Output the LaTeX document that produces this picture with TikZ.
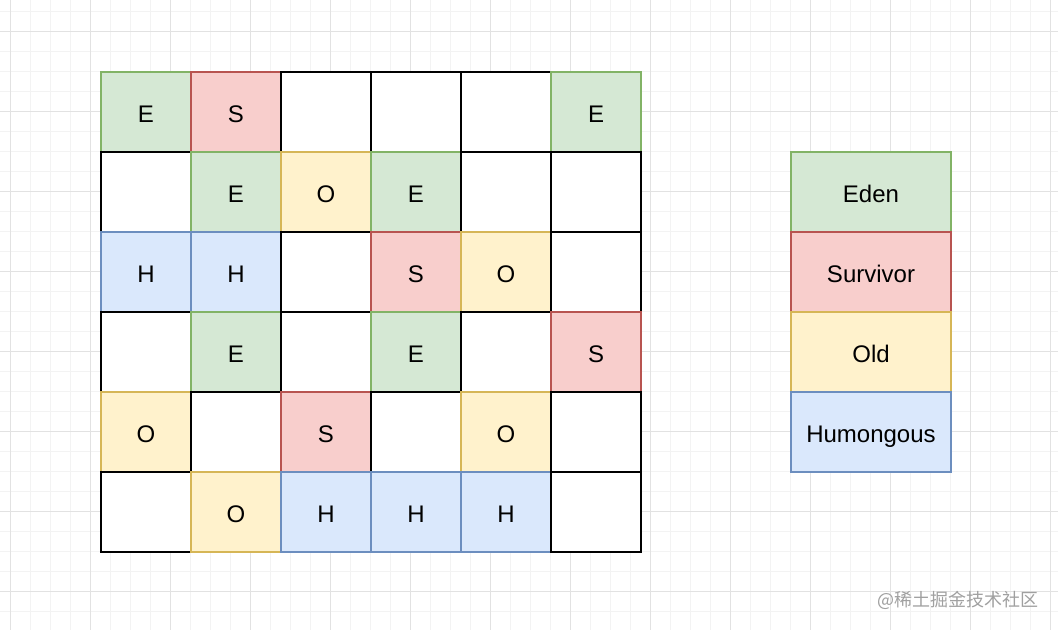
\documentclass[tikz,border=0pt]{standalone}
\usepackage{fontspec}
\setmainfont{Liberation Sans}
\newfontfamily\cjk{Noto Sans CJK SC}
\definecolor{edenfill}{HTML}{D5E8D4}
\definecolor{edenline}{HTML}{82B366}
\definecolor{survfill}{HTML}{F8CECC}
\definecolor{survline}{HTML}{B85450}
\definecolor{oldfill}{HTML}{FFF2CC}
\definecolor{oldline}{HTML}{D6B656}
\definecolor{humfill}{HTML}{DAE8FC}
\definecolor{humline}{HTML}{6C8EBF}
\definecolor{gridminor}{HTML}{F3F3F3}
\definecolor{gridmajor}{HTML}{E2E2E2}
\tikzset{
  region/.style={draw, line width=1.1pt, outer sep=0pt, inner sep=0pt, text height=16pt, text depth=0.8pt, font=\fontsize{18}{21}\selectfont},
  cellbox/.style={region, minimum width=67.5pt, minimum height=60pt},
  legbox/.style={region, minimum width=120pt, minimum height=60pt},
  free/.style={fill=white, draw=black},
  eden/.style={fill=edenfill, draw=edenline},
  surv/.style={fill=survfill, draw=survline},
  old/.style={fill=oldfill, draw=oldline},
  hum/.style={fill=humfill, draw=humline},
}
\begin{document}
\begin{tikzpicture}[x=0.75pt,y=0.75pt,yscale=-1,xscale=1]
    \useasboundingbox (0,0) rectangle (1058,630);
    \fill [white] (0,0) rectangle (1058,630);

    %Background grid
    \foreach \gx in {10,30,...,1050} \draw [gridminor, line width=0.75pt] (\gx,0) -- (\gx,630);
    \foreach \gy in {12,32,...,630} \draw [gridminor, line width=0.75pt] (0,\gy) -- (1058,\gy);
    \foreach \gx in {10,90,...,1050} \draw [gridmajor, line width=0.75pt] (\gx,0) -- (\gx,630);
    \foreach \gy in {32,112,...,630} \draw [gridmajor, line width=0.75pt] (0,\gy) -- (1058,\gy);

    %Heap regions
    \foreach \r/\cells in {
        0/{eden/E,surv/S,free/,free/,free/,eden/E},
        1/{free/,eden/E,old/O,eden/E,free/,free/},
        2/{hum/H,hum/H,free/,surv/S,old/O,free/},
        3/{free/,eden/E,free/,eden/E,free/,surv/S},
        4/{old/O,free/,surv/S,free/,old/O,free/},
        5/{free/,old/O,hum/H,hum/H,hum/H,free/}}
      \foreach \s/\t [count=\c from 0] in \cells
        \node [cellbox, \s] (cell-\r-\c) at (146+90*\c,112+80*\r) {\t};

    %Legend
    \node [legbox, eden] (leg-eden) at (871,192) {Eden};
    \node [legbox, surv] (leg-surv) at (871,272) {Survivor};
    \node [legbox, old] (leg-old) at (871,352) {Old};
    \node [legbox, hum] (leg-hum) at (871,432) {Humongous};

    % Text Node
    \node [text={rgb,255:red,160;green,160;blue,160}, font=\cjk\fontsize{13.5}{16}\selectfont, anchor=east] (mark) at (1043,600) {@稀土掘金技术社区};
\end{tikzpicture}
\end{document}
